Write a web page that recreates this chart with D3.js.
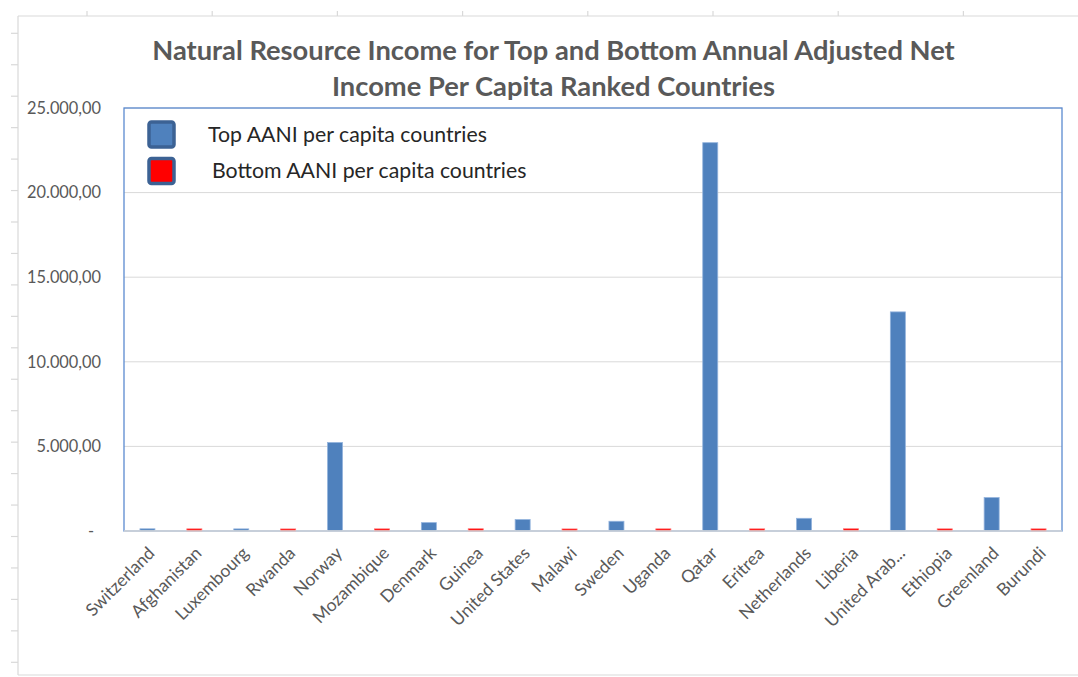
<!DOCTYPE html>
<html>
<head>
<meta charset="utf-8">
<script src="https://cdn.jsdelivr.net/npm/d3@7"></script>
<style>
  html, body { margin: 0; padding: 0; background: #fff; }
  svg { display: block; font-family: Lato, "Open Sans", sans-serif; }
</style>
</head>
<body>
<svg id="chart" width="1078" height="677"></svg>
<script>
// Countries in ranked order, alternating top / bottom AANI per capita
const countries = ["Switzerland", "Afghanistan", "Luxembourg", "Rwanda", "Norway", "Mozambique",
  "Denmark", "Guinea", "United States", "Malawi", "Sweden", "Uganda", "Qatar", "Eritrea",
  "Netherlands", "Liberia", "United Arab Emirates", "Ethiopia", "Greenland", "Burundi"];
const groups = ["top", "bottom", "top", "bottom", "top", "bottom", "top", "bottom", "top", "bottom",
  "top", "bottom", "top", "bottom", "top", "bottom", "top", "bottom", "top", "bottom"];
// Natural resource income per capita
const income = [130, 125, 125, 120, 5230, 125, 495, 130, 675, 120, 575, 125, 22950, 125,
  750, 130, 12950, 125, 1975, 125];

const yTicks = [0, 5000, 10000, 15000, 20000, 25000];
const yTickLabels = ["-", "5.000,00", "10.000,00", "15.000,00", "20.000,00", "25.000,00"];

const seriesKeys = ["top", "bottom"];
const seriesNames = ["Top AANI per capita countries", "Bottom AANI per capita countries"];
const seriesColors = ["#4f81bd", "#ff0000"];

const titleLines = ["Natural Resource Income for Top and Bottom Annual Adjusted Net",
  "Income Per Capita Ranked Countries"];

const svg = d3.select("#chart");
const W = 1078, H = 677;
const plot = { left: 124, top: 108, right: 1062, bottom: 531 };

// sheet frame with row / column marks outside the chart
const frame = svg.append("g").attr("stroke", "#d9d9d9").attr("stroke-width", 1.2).attr("fill", "none");
frame.append("line").attr("x1", 18).attr("x2", W).attr("y1", 16).attr("y2", 16);
frame.append("line").attr("x1", 18).attr("x2", 18).attr("y1", 16).attr("y2", 675);
frame.append("line").attr("x1", 18).attr("x2", W).attr("y1", 675).attr("y2", 675);
const colMarks = d3.range(87, W, 125.2);
frame.selectAll(".cm").data(colMarks).join("line")
  .attr("x1", d => d).attr("x2", d => d).attr("y1", 11).attr("y2", 16);
const rowMarks = d3.range(33.3, 675, 31.45);
frame.selectAll(".rm").data(rowMarks).join("line")
  .attr("x1", 11).attr("x2", 18).attr("y1", d => d).attr("y2", d => d);

const x = d3.scaleBand().domain(countries)
  .range([plot.left, plot.right]).paddingInner(0.68).paddingOuter(0.34);
const y = d3.scaleLinear().domain([0, 25000]).range([plot.bottom, plot.top]);
const color = d3.scaleOrdinal().domain(seriesKeys).range(seriesColors);

// title
const title = svg.append("g").attr("fill", "#595959").attr("font-weight", "bold").attr("text-anchor", "middle");
const t1 = title.append("text").attr("x", 553.5).attr("y", 60).attr("font-size", 24).text(titleLines[0]);
const titleSize = 24 * 803 / t1.node().getComputedTextLength();
t1.attr("font-size", titleSize);
title.append("text").attr("x", 553.5).attr("y", 96).attr("font-size", titleSize).text(titleLines[1]);

// gridlines
svg.append("g").selectAll("line").data(yTicks.filter(v => v > 0)).join("line")
  .attr("x1", plot.left).attr("x2", plot.right)
  .attr("y1", d => y(d)).attr("y2", d => y(d))
  .attr("stroke", "#d9d9d9").attr("stroke-width", 1);

// plot border
svg.append("rect").attr("x", plot.left).attr("y", plot.top)
  .attr("width", plot.right - plot.left).attr("height", plot.bottom - plot.top)
  .attr("fill", "none").attr("stroke", "#5b8ad0").attr("stroke-width", 1.3);

// bars
const rows = countries.map((c, i) => ({ country: c, group: groups[i], value: income[i] }));
svg.append("g").selectAll("rect").data(rows).join("rect")
  .attr("x", d => x(d.country)).attr("width", x.bandwidth())
  .attr("y", d => y(d.value)).attr("height", d => y(0) - y(d.value))
  .attr("fill", d => color(d.group))
  .attr("stroke", d => d.group === "top" ? "#93b3dd" : "#ff6a6a")
  .attr("stroke-width", 0.8);

// category axis
const xAxis = svg.append("g").attr("transform", `translate(0,${plot.bottom})`)
  .call(d3.axisBottom(x).tickSize(0).tickPadding(0)
    .tickFormat(d => d.length > 15 ? d.slice(0, 11) + "..." : d));
xAxis.select(".domain").attr("stroke", "#d9d9d9").attr("stroke-width", 1.6)
  .attr("d", `M${plot.left},0H${plot.right}`);
const xTexts = xAxis.selectAll("text")
  .attr("fill", "#595959").attr("font-family", "Lato, 'Open Sans', sans-serif")
  .attr("font-size", 15)
  .attr("text-anchor", "end")
  .attr("transform", "translate(4,19) rotate(-45)")
  .attr("dy", "0.35em").attr("y", 0).attr("x", 0);
const swz = xTexts.filter(d => d === "Switzerland").node().getComputedTextLength();
xTexts.attr("font-size", 15 * 89 / swz);

// value axis
const yAxis = svg.append("g").attr("transform", `translate(${plot.left},0)`)
  .call(d3.axisLeft(y).tickValues(yTicks).tickSize(0).tickPadding(23)
    .tickFormat((d, i) => yTickLabels[i]));
yAxis.select(".domain").remove();
const yTexts = yAxis.selectAll("text").attr("fill", "#595959")
  .attr("font-family", "Lato, 'Open Sans', sans-serif").attr("font-size", 15);
const wTop = yTexts.filter(d => d === 25000).node().getComputedTextLength();
yTexts.attr("font-size", 15 * 74 / wTop);
yTexts.filter(d => d === 0).attr("dx", -7);

// legend
const legend = svg.append("g");
const legendRows = legend.selectAll("g").data(seriesKeys).join("g")
  .attr("transform", (d, i) => `translate(149,${122 + i * 36.5})`);
legendRows.append("rect").attr("x", 0).attr("y", 0).attr("width", 25).attr("height", 25)
  .attr("rx", 2.5).attr("fill", d => color(d)).attr("stroke", "#3c6294").attr("stroke-width", 3.5);
const legendTexts = legendRows.append("text")
  .attr("x", (d, i) => i === 0 ? 59 : 63).attr("y", 12.5).attr("dy", "0.35em")
  .attr("fill", "#262626").attr("font-size", 18)
  .text((d, i) => seriesNames[i]);
const wLeg = legendTexts.filter(d => d === "top").node().getComputedTextLength();
legendTexts.attr("font-size", 18 * 279 / wLeg);
</script>
</body>
</html>
